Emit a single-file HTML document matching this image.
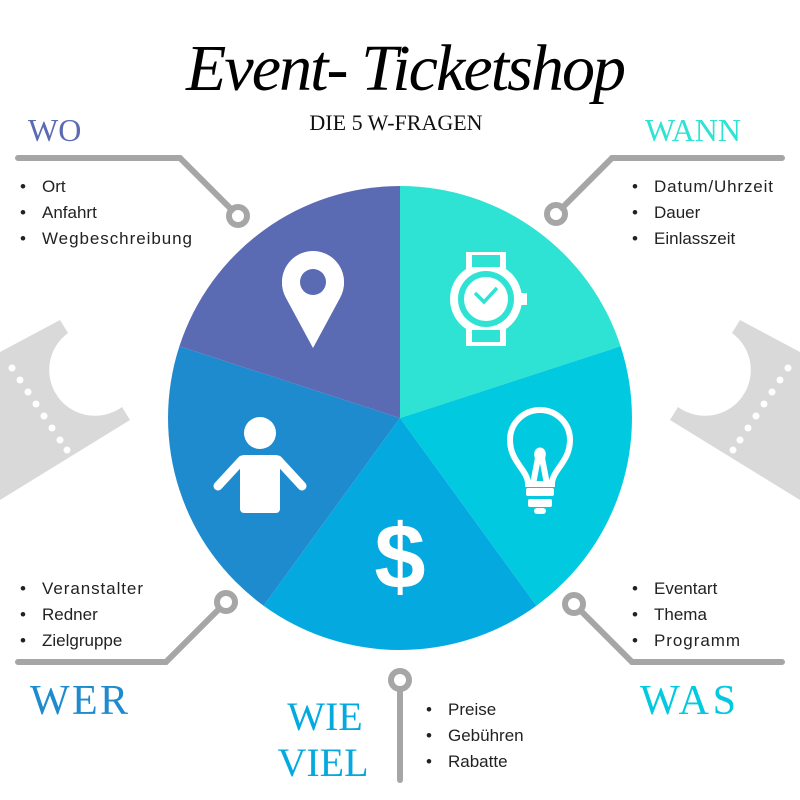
<!DOCTYPE html>
<html><head><meta charset="utf-8"><style>
html,body{margin:0;padding:0;background:#fff}
svg{display:block}
.h{font-family:"Liberation Serif",serif}
.b{font-family:"Liberation Sans",sans-serif;font-size:17px;fill:#222}
</style></head><body>
<svg width="800" height="800" viewBox="0 0 800 800" xmlns="http://www.w3.org/2000/svg">
<g fill="#d9d9d9">
<path d="M0,352 L60,320 L68,333 A42,42 0 0 0 122,407 L130,420 L0,500 Z"/>
<path d="M800,352 L740,320 L732,333 A42,42 0 0 1 678,407 L670,420 L800,500 Z"/>
</g>
<g fill="#fff">
<circle cx="12" cy="368" r="3.5"/><circle cx="20" cy="380" r="3.5"/><circle cx="28" cy="392" r="3.5"/><circle cx="36" cy="404" r="3.5"/><circle cx="44" cy="416" r="3.5"/><circle cx="52" cy="428" r="3.5"/><circle cx="60" cy="440" r="3.5"/><circle cx="67" cy="450" r="3.5"/>
<circle cx="788" cy="368" r="3.5"/><circle cx="780" cy="380" r="3.5"/><circle cx="772" cy="392" r="3.5"/><circle cx="764" cy="404" r="3.5"/><circle cx="756" cy="416" r="3.5"/><circle cx="748" cy="428" r="3.5"/><circle cx="740" cy="440" r="3.5"/><circle cx="733" cy="450" r="3.5"/>
</g>
<g>
<path d="M400,418 L400,186 A232,232 0 0 1 620.6,346.3 Z" fill="#2ee3d3"/>
<path d="M400,418 L620.6,346.3 A232,232 0 0 1 536.4,605.7 Z" fill="#00c9e0"/>
<path d="M400,418 L536.4,605.7 A232,232 0 0 1 263.6,605.7 Z" fill="#04a9df"/>
<path d="M400,418 L263.6,605.7 A232,232 0 0 1 179.4,346.3 Z" fill="#1e8bcf"/>
<path d="M400,418 L179.4,346.3 A232,232 0 0 1 400,186 Z" fill="#5b6bb3"/>
</g>
<g stroke="#a6a6a6" stroke-width="6" fill="none" stroke-linecap="round">
<polyline points="18,158 180,158 232,210"/>
<polyline points="782,158 612,158 562,208"/>
<polyline points="18,662 166,662 218,610"/>
<polyline points="782,662 632,662 582,612"/>
<line x1="400" y1="690" x2="400" y2="780"/>
<circle cx="238" cy="216" r="9"/><circle cx="556" cy="214" r="9"/>
<circle cx="226" cy="602" r="9"/><circle cx="574" cy="604" r="9"/>
<circle cx="400" cy="680" r="9"/>
</g>
<g fill="#fff">
<path d="M313,348 L286,298 A31,31 0 1 1 340,298 Z"/>
<circle cx="313" cy="282" r="31"/>
</g>
<circle cx="313" cy="282" r="13" fill="#5b6bb3"/>
<g fill="#fff">
<rect x="466" y="252" width="40" height="18"/><rect x="466" y="326" width="40" height="20"/>
<circle cx="486" cy="299" r="36"/><rect x="519" y="293" width="8" height="12"/>
</g>
<rect x="472" y="255" width="28" height="12" fill="#2ee3d3"/><rect x="472" y="330" width="28" height="12" fill="#2ee3d3"/>
<circle cx="486" cy="299" r="28" fill="#2ee3d3"/><circle cx="486" cy="299" r="22" fill="#fff"/>
<polyline points="475,293 484,302 497,288" stroke="#2ee3d3" stroke-width="3.5" fill="none"/>
<g fill="none" stroke="#fff" stroke-width="6">
<path d="M528,484 C528,470 510,462 510,440 A30,30 0 1 1 570,440 C570,462 552,470 552,484 Z"/>
<path d="M533,484 L538,458 C534,448 546,448 542,458 L547,484"/>
</g>
<rect x="526" y="488" width="28" height="8" rx="2" fill="#fff"/><rect x="528" y="499" width="24" height="8" rx="2" fill="#fff"/><rect x="534" y="508" width="12" height="6" rx="3" fill="#fff"/>
<text x="400" y="588" text-anchor="middle" font-family="Liberation Sans,sans-serif" font-weight="bold" font-size="92" fill="#fff">$</text>
<g fill="#fff">
<circle cx="260" cy="433" r="16"/>
<rect x="240" y="455" width="40" height="58" rx="4"/>
<path d="M242,460 L218,486" stroke="#fff" stroke-width="9" stroke-linecap="round"/>
<path d="M278,460 L302,486" stroke="#fff" stroke-width="9" stroke-linecap="round"/>
</g>
<text x="406" y="90" text-anchor="middle" class="h" font-style="italic" font-size="66" fill="#000" textLength="440">Event- Ticketshop</text>
<text x="396" y="130" text-anchor="middle" class="h" font-size="22" fill="#111">DIE 5 W-FRAGEN</text>
<text x="28" y="141" class="h" font-size="32" fill="#5b6bb3">WO</text>
<text x="645" y="141" class="h" font-size="32" fill="#2ee3d3">WANN</text>
<text x="30" y="714" class="h" font-size="42" fill="#1e8bcf" textLength="98">WER</text>
<text x="640" y="714" class="h" font-size="42" fill="#00c9e0" textLength="96">WAS</text>
<text x="325" y="730" text-anchor="middle" class="h" font-size="40" fill="#04a9df">WIE</text>
<text x="323" y="776" text-anchor="middle" class="h" font-size="40" fill="#04a9df">VIEL</text>
<g class="b">
<text x="20" y="192">•</text><text x="42" y="192">Ort</text>
<text x="20" y="218">•</text><text x="42" y="218">Anfahrt</text>
<text x="20" y="244">•</text><text x="42" y="244" textLength="150">Wegbeschreibung</text>
<text x="632" y="192">•</text><text x="654" y="192" textLength="119">Datum/Uhrzeit</text>
<text x="632" y="218">•</text><text x="654" y="218">Dauer</text>
<text x="632" y="244">•</text><text x="654" y="244">Einlasszeit</text>
<text x="20" y="594">•</text><text x="42" y="594" textLength="101">Veranstalter</text>
<text x="20" y="620">•</text><text x="42" y="620">Redner</text>
<text x="20" y="646">•</text><text x="42" y="646">Zielgruppe</text>
<text x="632" y="594">•</text><text x="654" y="594">Eventart</text>
<text x="632" y="620">•</text><text x="654" y="620">Thema</text>
<text x="632" y="646">•</text><text x="654" y="646" textLength="86">Programm</text>
<text x="426" y="715">•</text><text x="448" y="715">Preise</text>
<text x="426" y="741">•</text><text x="448" y="741">Gebühren</text>
<text x="426" y="767">•</text><text x="448" y="767">Rabatte</text>
</g>
</svg>
</body></html>
